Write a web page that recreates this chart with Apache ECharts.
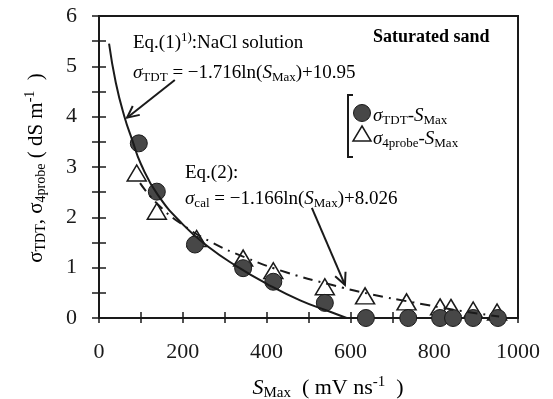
<!DOCTYPE html>
<html><head><meta charset="utf-8">
<script src="https://cdn.jsdelivr.net/npm/echarts@6/dist/echarts.min.js"></script>
<style>html,body{margin:0;padding:0;background:#fff}#c{width:553px;height:399px}</style>
</head><body><div id="c"></div>
<script>
// ---- data ----
const xTickLabels = [0, 200, 400, 600, 800, 1000];
const yTickLabels = [0, 1, 2, 3, 4, 5, 6];
const sMaxTDT   = [95, 138, 229, 344, 416, 539, 637, 738, 814, 845, 893, 952];
const sigmaTDT  = [3.47, 2.51, 1.46, 0.99, 0.72, 0.30, 0, 0, 0, 0, 0, 0];
const sMax4p    = [90, 138, 233, 344, 416, 539, 635, 734, 814, 840, 893, 950];
const sigma4p   = [2.88, 2.12, 1.58, 1.19, 0.94, 0.62, 0.44, 0.32, 0.22, 0.21, 0.16, 0.12];
const eq1X = [24, 40, 60, 80, 100, 140, 200, 260, 330, 400, 480, 550, 591];
const eq1Y = [5.45, 4.68, 4.02, 3.52, 3.06, 2.45, 1.86, 1.42, 1.02, 0.68, 0.35, 0.13, 0];
const eq2X = [98, 140, 200, 270, 350, 450, 550, 650, 750, 850, 955];
const eq2Y = [2.68, 2.26, 1.85, 1.50, 1.20, 0.90, 0.67, 0.47, 0.31, 0.16, 0.03];
const arrow1 = [[181, 4.73], [67, 3.98]];
const arrow2 = [[508, 2.19], [587, 0.66]];

const zip = (a, b) => a.map((v, i) => [v, b[i]]);
const FONT = 'Liberation Serif';
const INK = '#1a1a1a';

const chart = echarts.init(document.getElementById('c'), null, {renderer: 'canvas'});

const axisBase = {
  type: 'value', splitLine: {show: false},
  axisLine: {show: true, lineStyle: {color: INK, width: 2}},
};
function rich(fs) {
  const sub = Math.round(fs * 0.66);
  return {
    n: {fontFamily: FONT, fontSize: fs, color: INK, lineHeight: fs + 4},
    i: {fontFamily: FONT, fontSize: fs, fontStyle: 'italic', color: INK, lineHeight: fs + 4},
    b: {fontFamily: FONT, fontSize: fs, fontWeight: 'bold', color: INK, lineHeight: fs + 4},
    sub: {fontFamily: FONT, fontSize: sub, color: INK, lineHeight: sub, verticalAlign: 'bottom'},
    sup: {fontFamily: FONT, fontSize: sub, color: INK, lineHeight: sub, verticalAlign: 'top'}
  };
}
function txt(x, y, text, fs, opts) {
  return Object.assign({
    type: 'text', x: x, y: y, z: 100,
    style: Object.assign({text: text, rich: rich(fs), align: 'left', verticalAlign: 'middle'}, (opts && opts.style) || {})
  }, (opts && opts.el) || {});
}

const option = {
  animation: false,
  backgroundColor: '#fff',
  grid: {left: 99, right: 35, top: 16, bottom: 81, show: true, borderColor: INK, borderWidth: 2, backgroundColor: 'transparent'},
  xAxis: [
    Object.assign({}, axisBase, {
      min: 0, max: 1000, interval: 100, position: 'bottom',
      axisTick: {show: true, inside: true, length: 6, lineStyle: {color: INK, width: 1.5}},
      axisLabel: {margin: 23, fontFamily: FONT, fontSize: 22, color: INK,
        formatter: v => xTickLabels.includes(v) ? String(v) : ''}
    }),
    Object.assign({}, axisBase, {
      min: 0, max: 1000, interval: 100, position: 'bottom', offset: 0,
      axisTick: {show: true, inside: false, length: 5, lineStyle: {color: INK, width: 1.5}},
      axisLabel: {show: false}
    })
  ],
  yAxis: [
    Object.assign({}, axisBase, {
      min: 0, max: 6, interval: 0.5, position: 'left',
      axisTick: {show: true, inside: true, length: 7, lineStyle: {color: INK, width: 1.5}},
      axisLabel: {margin: 22, fontFamily: FONT, fontSize: 22, color: INK,
        formatter: v => yTickLabels.includes(v) ? String(v) : ''}
    }),
    Object.assign({}, axisBase, {
      min: 0, max: 6, interval: 0.5, position: 'left', offset: 0,
      axisTick: {show: true, inside: false, length: 7, lineStyle: {color: INK, width: 1.5}},
      axisLabel: {show: false}
    })
  ],
  series: [
    {type: 'scatter', name: '4probe', data: zip(sMax4p, sigma4p), z: 2,
     symbol: 'triangle', symbolSize: [19, 16],
     itemStyle: {color: '#fff', borderColor: INK, borderWidth: 1.5, opacity: 1}},
    {type: 'scatter', name: 'TDT', data: zip(sMaxTDT, sigmaTDT), z: 3,
     symbol: 'circle', symbolSize: 17,
     itemStyle: {color: '#474747', borderColor: INK, borderWidth: 1, opacity: 1}},
    {type: 'line', name: 'eq2', data: zip(eq2X, eq2Y), z: 4, showSymbol: false, symbol: 'none',
     smooth: 0.5,
     lineStyle: {color: INK, width: 2, type: [10, 6, 2, 6]}},
    {type: 'line', name: 'eq1', data: zip(eq1X, eq1Y), z: 5, showSymbol: false, symbol: 'none',
     smooth: 0.5,
     lineStyle: {color: INK, width: 2}}
  ]
};
chart.setOption(option);

function arrowEls(a) {
  const p0 = chart.convertToPixel({xAxisIndex: 0, yAxisIndex: 0}, a[0]);
  const p1 = chart.convertToPixel({xAxisIndex: 0, yAxisIndex: 0}, a[1]);
  const ang = Math.atan2(p0[1] - p1[1], p0[0] - p1[0]);
  const L = 13, da = 0.45;
  const h1 = [p1[0] + L * Math.cos(ang + da), p1[1] + L * Math.sin(ang + da)];
  const h2 = [p1[0] + L * Math.cos(ang - da), p1[1] + L * Math.sin(ang - da)];
  const ls = {stroke: INK, lineWidth: 2, fill: null};
  return [
    {type: 'polyline', z: 100, shape: {points: [p0, p1]}, style: ls},
    {type: 'polyline', z: 100, shape: {points: [h1, p1, h2]}, style: ls}
  ];
}

const graphics = [].concat(
  arrowEls(arrow1), arrowEls(arrow2),
  [
    txt(133, 43, '{n|Eq.(1)}{sup|1)}{n|:NaCl solution}', 19),
    txt(133, 73, '{i|σ}{sub|TDT}{n| = −1.716ln(}{i|S}{sub|Max}{n|)+10.95}', 19),
    txt(373, 37, '{b|Saturated sand}', 18),
    txt(185, 173, '{n|Eq.(2):}', 19),
    txt(185, 199, '{i|σ}{sub|cal}{n| = −1.166ln(}{i|S}{sub|Max}{n|)+8.026}', 19),
    // legend
    {type: 'polyline', z: 100, shape: {points: [[353, 95], [348, 95], [348, 157], [353, 157]]}, style: {stroke: INK, lineWidth: 2, fill: null}},
    {type: 'circle', z: 100, shape: {cx: 362, cy: 113, r: 8.5}, style: {fill: '#474747', stroke: INK, lineWidth: 1}},
    {type: 'polygon', z: 100, shape: {points: [[362, 126], [371, 141], [353, 141]]}, style: {fill: '#fff', stroke: INK, lineWidth: 1.5}},
    txt(373, 116, '{i|σ}{sub|TDT}{n|-}{i|S}{sub|Max}', 19),
    txt(373, 139, '{i|σ}{sub|4probe}{n|-}{i|S}{sub|Max}', 19),
    // axis titles
    txt(328, 388, '{i|S}{sub|Max}{n|  ( mV ns}{sup|-1}{n|  )}', 22, {style: {align: 'center'}}),
    txt(36, 168, '{n|σ}{sub|TDT}{n|, σ}{sub|4probe}{n| ( dS m}{sup|-1}{n|  )}', 21, {style: {align: 'center'}, el: {rotation: Math.PI / 2}})
  ]
);
chart.setOption({graphic: graphics});
</script>
</body></html>
